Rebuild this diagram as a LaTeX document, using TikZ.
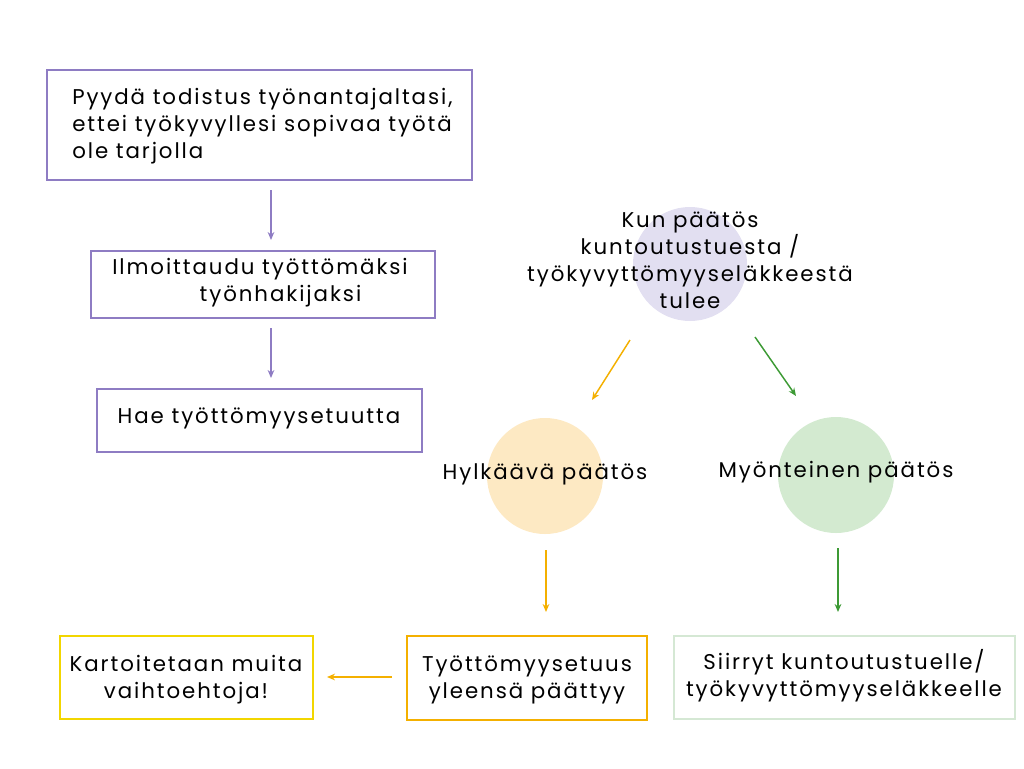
\documentclass[tikz,border=0pt]{standalone}
\usepackage{fontspec}
\setmainfont[LetterSpace=9]{Poppins}
\usetikzlibrary{arrows.meta}
\definecolor{pur}{HTML}{8E7CC3}
\definecolor{purf}{HTML}{E2DFF1}
\definecolor{org}{HTML}{F4B000}
\definecolor{orgf}{HTML}{FDE9C3}
\definecolor{grn}{HTML}{3D9A35}
\definecolor{grnf}{HTML}{D3EAD0}
\definecolor{grnb}{HTML}{D5E8D4}
\definecolor{yel}{HTML}{F2D600}
\begin{document}
\begin{tikzpicture}[x=0.75pt,y=-0.75pt,
  txt/.style={font=\fontsize{16}{20.3}\selectfont,align=center,inner sep=0},
  arr/.style={-{Stealth[length=6pt,width=5pt]},line width=1.1pt},
  box/.style={draw,line width=1pt}]
\useasboundingbox (0,0) rectangle (1024,768);
% left column
\draw[box,pur] (47,70) rectangle (472,180);
\node[txt,align=left,anchor=north west] (t1) at (72,88) {Pyydä todistus työnantajaltasi,\\ettei työkyvyllesi sopivaa työtä\\ole tarjolla};
\draw[box,pur] (91,251) rectangle (435,318);
\node[txt,align=left,anchor=north west] (t2) at (112,258) {Ilmoittaudu työttömäksi\\\hspace*{4.1em}työnhakijaksi};
\draw[box,pur] (97,389) rectangle (422,452);
\node[txt] (t3) at (259,418) {Hae työttömyysetuutta};
\coordinate (a1) at (271,190); \coordinate (a2) at (271,240);
\coordinate (b1) at (271,328); \coordinate (b2) at (271,378);
\draw[arr,pur,line width=0.8pt] (a1) -- (a2);
\draw[arr,pur,line width=0.8pt] (b1) -- (b2);
% decision
\fill[purf] (690,264) circle (57);
\node[txt] (k) at (690,260) {Kun päätös\\kuntoutustuesta /\\työkyvyttömyyseläkkeestä\\tulee};
\fill[orgf] (545,476) circle (58);
\node[txt] (h) at (545,474) {Hylkäävä päätös};
\fill[grnf] (836,475) circle (58);
\node[txt] (m) at (836,472) {Myönteinen päätös};
\coordinate (c1) at (630,340); \coordinate (c2) at (592,400);
\coordinate (d1) at (755,337); \coordinate (d2) at (796,396);
\draw[arr,org] (c1) -- (c2);
\draw[arr,grn] (d1) -- (d2);
\coordinate (e1) at (546,550); \coordinate (e2) at (546,612);
\coordinate (f1) at (838,548); \coordinate (f2) at (838,612);
\draw[arr,org] (e1) -- (e2);
\draw[arr,grn] (f1) -- (f2);
% bottom
\draw[box,org] (407,636) rectangle (647,720);
\node[txt] (ty) at (527,680) {Työttömyysetuus\\yleensä päättyy};
\draw[box,yel] (60,636) rectangle (313,719);
\node[txt] (ka) at (186,680) {Kartoitetaan muita\\vaihtoehtoja!};
\draw[box,grnb] (674,636) rectangle (1015,719);
\node[txt] (si) at (844,676) {Siirryt kuntoutustuelle/\\työkyvyttömyyseläkkeelle};
\coordinate (g1) at (392,677); \coordinate (g2) at (327,677);
\draw[arr,org] (g1) -- (g2);
\end{tikzpicture}
\end{document}
